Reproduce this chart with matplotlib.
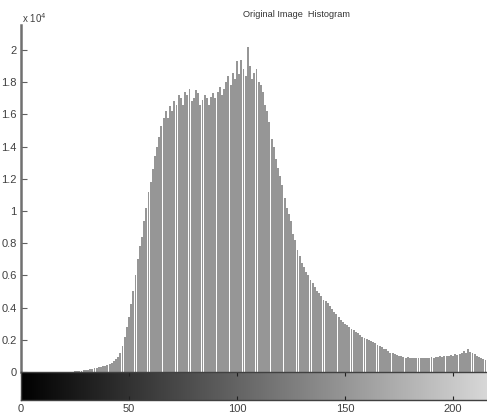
import numpy as np
import matplotlib.pyplot as plt

plt.rcParams['font.family'] = ['Liberation Sans', 'DejaVu Sans']

# histogram counts (x 10^4) for grey levels 0..216
counts = [
    0, 0, 0, 0, 0, 0, 0, 0, 0, 0,
    0, 0, 0, 0, 0, 0, 0, 0, 0, 0,
    0.001, 0.001, 0.002, 0.002, 0.003,
    0.004, 0.005, 0.006, 0.008, 0.010,
    0.012, 0.014, 0.016, 0.019, 0.022,
    0.025, 0.028, 0.032, 0.036, 0.040,
    0.045, 0.050, 0.058, 0.066, 0.078,
    0.095, 0.12, 0.16, 0.22, 0.28,
    0.34, 0.42, 0.50, 0.60, 0.70,
    0.78, 0.84, 0.94, 1.02, 1.12,
    1.18, 1.26, 1.34, 1.40, 1.46,
    1.53, 1.58, 1.62, 1.58, 1.65,
    1.62, 1.68, 1.66, 1.72, 1.70,
    1.66, 1.74, 1.72, 1.76, 1.68,
    1.70, 1.75, 1.73, 1.66, 1.69,
    1.72, 1.70, 1.66, 1.71, 1.73,
    1.70, 1.74, 1.77, 1.72, 1.76,
    1.80, 1.84, 1.78, 1.86, 1.82,
    1.93, 1.85, 1.94, 1.88, 1.84,
    2.02, 1.90, 1.82, 1.86, 1.88,
    1.80, 1.78, 1.74, 1.66, 1.62,
    1.55, 1.45, 1.40, 1.32, 1.27,
    1.22, 1.16, 1.08, 1.02, 0.98,
    0.94, 0.86, 0.82, 0.76, 0.72,
    0.68, 0.65, 0.62, 0.60, 0.57,
    0.55, 0.53, 0.50, 0.49, 0.47,
    0.45, 0.44, 0.43, 0.41, 0.39,
    0.37, 0.36, 0.34, 0.32, 0.31,
    0.30, 0.29, 0.28, 0.27, 0.26,
    0.25, 0.24, 0.23, 0.22, 0.21,
    0.205, 0.20, 0.19, 0.185, 0.18,
    0.17, 0.16, 0.155, 0.145, 0.14,
    0.13, 0.12, 0.115, 0.11, 0.105,
    0.10, 0.10, 0.095, 0.09, 0.092,
    0.088, 0.09, 0.085, 0.087, 0.086,
    0.085, 0.09, 0.088, 0.086, 0.09,
    0.092, 0.09, 0.095, 0.093, 0.097,
    0.095, 0.10, 0.098, 0.10, 0.105,
    0.10, 0.11, 0.105, 0.11, 0.12,
    0.13, 0.115, 0.14, 0.125, 0.12,
    0.11, 0.10, 0.095, 0.085, 0.08,
    0.075, 0.07,
]
levels = np.arange(len(counts))

yticks = [0, 0.2, 0.4, 0.6, 0.8, 1, 1.2, 1.4, 1.6, 1.8, 2]
ytick_labels = ['0', '0.2', '0.4', '0.6', '0.8', '1', '1.2', '1.4', '1.6', '1.8', '2']
xticks = [0, 50, 100, 150, 200]

W, H = 487, 415
fig = plt.figure(figsize=(W / 100, H / 100), dpi=100)
fig.patch.set_facecolor('white')

x0, x1 = 0, 215.7
left = 21 / W
ax = fig.add_axes([left, 1 - 372 / H, 1 - left, (372 - 25) / H])
ax.bar(levels, counts, width=0.88, color='#969696', linewidth=0)
ax.set_xlim(x0, x1)
ax.set_ylim(0, 2.155)
for s in ['top', 'right', 'bottom']:
    ax.spines[s].set_visible(False)
ax.spines['left'].set_color('#707070')
ax.spines['left'].set_linewidth(1.8)
ax.set_xticks([])
ax.set_yticks(yticks)
ax.set_yticklabels(ytick_labels)
ax.tick_params(axis='y', direction='in', length=4, width=0.8, color='#606060',
               labelsize=8, labelcolor='#404040', pad=3)

ax.text(127.5, 2.155 + 10 / 161, 'Original Image  Histogram', ha='center', va='center',
        fontsize=6.6, color='#333333', clip_on=False)
fig.text(22 / W, 1 - 18 / H, r'x 10$^4$', fontsize=7, color='#404040', va='center')

# grey level bar below the histogram
cax = fig.add_axes([left, 1 - 400 / H, 1 - left, 28 / H])
grad = np.linspace(0, 1, 256)[None, :]
cax.imshow(grad, aspect='auto', cmap='gray', extent=(-0.5, 255.5, 0, 1))
cax.set_xlim(x0, x1)
cax.set_yticks([])
cax.set_xticks(xticks)
cax.tick_params(axis='x', direction='in', length=3, width=0.8, color='#202020',
                top=True, labelsize=8, labelcolor='#404040', pad=3)
for s in cax.spines.values():
    s.set_color('#404040')
    s.set_linewidth(1.0)
cax.spines['right'].set_visible(False)

fig.savefig('out.png', dpi=100, facecolor='white')
